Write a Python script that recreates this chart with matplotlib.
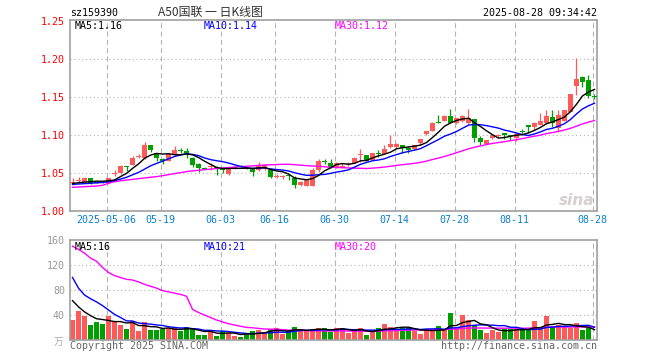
import numpy as np
import pandas as pd
import matplotlib
matplotlib.use("Agg")
import matplotlib.pyplot as plt

# ---------------- data ----------------
start_date = "2025-04-23"
end_date = "2025-08-28"
holidays = ["2025-05-01", "2025-05-02", "2025-05-05", "2025-06-02"]

open_ = [1.0375, 1.0400, 1.0386, 1.0435, 1.0378, 1.0378, 1.0368, 1.0494, 1.0496, 1.0585,
         1.0605, 1.0718, 1.0693, 1.0868, 1.0759, 1.0690, 1.0658, 1.0737, 1.0796, 1.0790,
         1.0702, 1.0614, 1.0563, 1.0580, 1.0583, 1.0550, 1.0482, 1.0568, 1.0585, 1.0568,
         1.0561, 1.0535, 1.0548, 1.0539, 1.0459, 1.0459, 1.0474, 1.0430, 1.0342, 1.0329,
         1.0329, 1.0539, 1.0652, 1.0636, 1.0583, 1.0590, 1.0616, 1.0636, 1.0744, 1.0737,
         1.0671, 1.0761, 1.0750, 1.0838, 1.0846, 1.0868, 1.0833, 1.0811, 1.0899, 1.1009,
         1.1053, 1.1165, 1.1184, 1.1250, 1.1162, 1.1184, 1.1154, 1.1206, 1.0956, 1.0882,
         1.0956, 1.0989, 1.1022, 1.0993, 1.0965, 1.1046, 1.1127, 1.1101, 1.1132, 1.1154,
         1.1241, 1.1096, 1.1184, 1.1307, 1.1649, 1.1759, 1.1724, 1.1506]
high = [1.0439, 1.0452, 1.0445, 1.0440, 1.0385, 1.0386, 1.0435, 1.0540, 1.0610, 1.0590,
        1.0720, 1.0746, 1.0912, 1.0870, 1.0762, 1.0693, 1.0750, 1.0860, 1.0825, 1.0825,
        1.0705, 1.0636, 1.0575, 1.0627, 1.0590, 1.0583, 1.0575, 1.0590, 1.0600, 1.0580,
        1.0565, 1.0645, 1.0614, 1.0561, 1.0487, 1.0474, 1.0487, 1.0461, 1.0390, 1.0410,
        1.0561, 1.0680, 1.0680, 1.0680, 1.0649, 1.0627, 1.0645, 1.0706, 1.0811, 1.0740,
        1.0765, 1.0803, 1.0868, 1.1000, 1.0900, 1.0870, 1.0855, 1.0870, 1.0950, 1.1058,
        1.1166, 1.1263, 1.1260, 1.1342, 1.1225, 1.1260, 1.1342, 1.1210, 1.0987, 1.0940,
        1.1005, 1.1013, 1.1025, 1.0995, 1.1031, 1.1075, 1.1130, 1.1165, 1.1285, 1.1329,
        1.1329, 1.1329, 1.1335, 1.1545, 1.2018, 1.1781, 1.1789, 1.1540]
low = [1.0342, 1.0364, 1.0380, 1.0355, 1.0362, 1.0365, 1.0365, 1.0460, 1.0490, 1.0530,
       1.0600, 1.0700, 1.0690, 1.0770, 1.0662, 1.0614, 1.0655, 1.0730, 1.0759, 1.0693,
       1.0583, 1.0518, 1.0548, 1.0539, 1.0474, 1.0505, 1.0478, 1.0550, 1.0560, 1.0550,
       1.0456, 1.0530, 1.0535, 1.0430, 1.0430, 1.0421, 1.0408, 1.0307, 1.0335, 1.0325,
       1.0325, 1.0518, 1.0618, 1.0561, 1.0561, 1.0561, 1.0590, 1.0630, 1.0649, 1.0655,
       1.0665, 1.0715, 1.0745, 1.0825, 1.0825, 1.0759, 1.0759, 1.0805, 1.0868, 1.1000,
       1.1049, 1.1155, 1.1180, 1.1158, 1.1150, 1.1175, 1.1150, 1.0912, 1.0868, 1.0875,
       1.0950, 1.0969, 1.0943, 1.0934, 1.0925, 1.1022, 1.1031, 1.1066, 1.1128, 1.1150,
       1.1101, 1.1044, 1.1180, 1.1300, 1.1526, 1.1636, 1.1482, 1.1469]
close = [1.0378, 1.0403, 1.0439, 1.0370, 1.0372, 1.0372, 1.0430, 1.0498, 1.0592, 1.0580,
         1.0702, 1.0722, 1.0868, 1.0803, 1.0693, 1.0660, 1.0746, 1.0803, 1.0792, 1.0750,
         1.0605, 1.0570, 1.0560, 1.0583, 1.0548, 1.0535, 1.0570, 1.0572, 1.0580, 1.0562,
         1.0518, 1.0601, 1.0601, 1.0452, 1.0463, 1.0463, 1.0456, 1.0342, 1.0386, 1.0408,
         1.0539, 1.0658, 1.0648, 1.0583, 1.0636, 1.0594, 1.0620, 1.0702, 1.0748, 1.0662,
         1.0759, 1.0757, 1.0811, 1.0882, 1.0882, 1.0833, 1.0803, 1.0868, 1.0947, 1.1053,
         1.1162, 1.1160, 1.1254, 1.1162, 1.1219, 1.1254, 1.1219, 1.0956, 1.0912, 1.0934,
         1.1000, 1.0993, 1.0996, 1.0989, 1.1009, 1.1042, 1.1101, 1.1162, 1.1184, 1.1254,
         1.1154, 1.1263, 1.1329, 1.1539, 1.1737, 1.1702, 1.1518, 1.1502]
volume = [32, 46.4, 38.9, 24, 28.8, 25.6, 38.9, 29.9, 24, 17.6,
          29.9, 14.4, 28.8, 16, 16, 17, 18.7, 18.7, 14.4, 20.8,
          17, 8, 8, 16, 6.4, 14.4, 11.7, 6.4, 4.8, 11.2,
          14.4, 16, 11.2, 17.6, 19.2, 9.6, 14.4, 20.8, 17.6, 14.4,
          14.4, 19.2, 19.2, 13.3, 19.2, 19.2, 11.7, 14.4, 19.2, 8,
          14.4, 19.2, 25.6, 20.8, 17.6, 19.2, 19.2, 14.4, 9.6, 16,
          16, 22.4, 16, 44, 17.6, 39.5, 31.5, 24, 16, 11.2,
          16, 12.8, 17.6, 17.6, 17.6, 16, 16, 30.4, 19.2, 38.4,
          20.8, 24, 20.8, 19.2, 27.2, 16, 19.2, 0.8]

# moving-average values before a full window is available
ma5_head = [1.0362, 1.0372, 1.0380, 1.0385]
ma10_head = [1.0350, 1.0355, 1.0360, 1.0365, 1.0370, 1.0375, 1.0385, 1.0400, 1.0420]
ma30_head = [1.0312, 1.0316, 1.0320, 1.0324, 1.0328, 1.0338, 1.0365, 1.0385, 1.0398, 1.0407,
             1.0416, 1.0425, 1.0435, 1.0444, 1.0452, 1.0465, 1.0478, 1.0492, 1.0505, 1.0518,
             1.0528, 1.0536, 1.0544, 1.0551, 1.0558, 1.0565, 1.0572, 1.0578, 1.0584]
vma5_head = [63, 53, 45, 39]
vma10_head = [100, 83, 72, 66, 61, 55, 48, 41, 36]
vma30_head = [150, 145, 139, 131, 126, 116, 108, 103, 100, 97,
              96, 93, 89, 86, 83, 79, 77, 75, 73, 70,
              49, 44, 40, 36, 32, 29, 26, 24, 22]

tick_dates = ["2025-05-06", "2025-05-19", "2025-06-03", "2025-06-16", "2025-06-30",
              "2025-07-14", "2025-07-28", "2025-08-11", "2025-08-28"]
tick_labels = ["2025-05-06", "05-19", "06-03", "06-16", "06-30",
               "07-14", "07-28", "08-11", "08-28"]
price_ticks = [1.00, 1.05, 1.10, 1.15, 1.20, 1.25]
vol_ticks = [0, 40, 80, 120, 160]

code = "sz159390"
title = "A50国联 一 日K线图"
stamp = "2025-08-28 09:34:42"

# ---------------- derived ----------------
dates = pd.bdate_range(start_date, end_date)
dates = dates[~dates.isin(pd.to_datetime(holidays))]
n = len(dates)
x = np.arange(n)
o = np.array(open_); h = np.array(high); l = np.array(low); c = np.array(close)
v = np.array(volume)


def moving(series, win, head):
    m = pd.Series(series).rolling(win).mean().to_numpy()
    m[:win - 1] = head
    return m


ma5 = moving(c, 5, ma5_head)
ma10 = moving(c, 10, ma10_head)
ma30 = moving(c, 30, ma30_head)
vma5 = moving(v, 5, vma5_head)
vma10 = moving(v, 10, vma10_head)
vma30 = moving(v, 30, vma30_head)

RED = "#FF5A5A"
GREEN = "#009F00"
up = c >= o
cols = np.where(up, RED, GREEN)

mono = "DejaVu Sans Mono"
FS = 7.2
W, H = 660, 360

fig = plt.figure(figsize=(6.6, 3.6), dpi=100)
fig.patch.set_facecolor("white")
ax = fig.add_axes([70 / W, 1 - 211 / H, 527 / W, 191 / H])
axv = fig.add_axes([70 / W, 1 - 340 / H, 527 / W, 100 / H])

xl = (-0.42, n - 1 + 0.42)
tick_idx = np.array([dates.get_loc(pd.Timestamp(d)) for d in tick_dates]) - 0.3

for a in (ax, axv):
    a.set_xlim(*xl)
    for s in a.spines.values():
        s.set_color("#A0A0A0")
        s.set_linewidth(1.2)
    a.set_xticks(tick_idx)
    a.tick_params(axis="both", length=0)
    for t in tick_idx:
        a.axvline(t, color="#B4B4B4", lw=0.8, ls=(0, (4.5, 3)), zorder=0)

# ---- price panel ----
ax.set_ylim(1.0, 1.2513)
ax.set_yticks(price_ticks)
ax.set_yticklabels([f"{t:.2f}" for t in price_ticks], fontfamily=mono, fontsize=FS, color="#FF0000")
ax.tick_params(axis="y", pad=3.6)
for t in price_ticks[1:-1]:
    ax.axhline(t, color="#B4B4B4", lw=0.8, ls=(0, (1, 2.5)), zorder=0)
ax.set_xticklabels(tick_labels, fontfamily=mono, fontsize=FS, color="#0A80D0")
ax.tick_params(axis="x", pad=3)

min_body = 0.0013
body_h = np.maximum(np.abs(c - o), min_body)
body_b = np.minimum(o, c) - np.where(np.abs(c - o) < min_body, min_body / 2, 0)
ax.vlines(x, l, h, colors=cols, lw=0.9, zorder=2)
ax.bar(x, body_h, bottom=body_b, width=0.8, color=cols, edgecolor=cols, lw=0, zorder=3)
ax.plot(x, ma30, color="#FF00FF", lw=1.0, zorder=4)
ax.plot(x, ma10, color="#0000FF", lw=1.0, zorder=4)
ax.plot(x, ma5, color="#000000", lw=1.0, zorder=5)

ax.text(0.995, 0.015, "sina", transform=ax.transAxes, ha="right", va="bottom",
        fontsize=11, fontweight="bold", fontstyle="italic", color="#D6D0D0", zorder=1)

# ---- volume panel ----
axv.set_ylim(0, 160)
axv.set_yticks(vol_ticks[1:])
axv.set_yticklabels([str(t) for t in vol_ticks[1:]], fontfamily=mono, fontsize=FS, color="#999999")
axv.tick_params(axis="y", pad=3.6)
axv.set_xticklabels([])
for t in vol_ticks[1:-1]:
    axv.axhline(t, color="#B4B4B4", lw=0.8, ls=(0, (1, 2.5)), zorder=0)
axv.bar(x, v, width=0.83, color=cols, lw=0, zorder=2)
axv.plot(x, vma30, color="#FF00FF", lw=1.0, zorder=4)
axv.plot(x, vma10, color="#0000FF", lw=1.0, zorder=4)
axv.plot(x, vma5, color="#000000", lw=1.0, zorder=5)


def ftext(px, py, s, **kw):
    fig.text(px / W, 1 - py / H, s, **kw)


# header
ftext(70, 13, code, fontfamily=mono, fontsize=FS, color="#000000", va="center", ha="left")
ftext(210, 12.5, title, fontfamily=["Noto Sans CJK SC", "DejaVu Sans"], fontsize=8.6,
      color="#333333", va="center", ha="center")
ftext(597, 13, stamp, fontfamily=mono, fontsize=FS, color="#000000", va="center", ha="right")

# legends
ftext(75, 26, f"MA5:{ma5[-1]:.2f}", fontfamily=mono, fontsize=FS, color="#000000", va="center")
ftext(204, 26, f"MA10:{ma10[-1]:.2f}", fontfamily=mono, fontsize=FS, color="#0000FF", va="center")
ftext(335, 26, f"MA30:{ma30[-1]:.2f}", fontfamily=mono, fontsize=FS, color="#FF00FF", va="center")
ftext(75, 246.5, f"MA5:{vma5[-1]:.0f}", fontfamily=mono, fontsize=FS, color="#000000", va="center")
ftext(204, 246.5, f"MA10:{vma10[-1]:.0f}", fontfamily=mono, fontsize=FS, color="#0000FF", va="center")
ftext(335, 246.5, f"MA30:{vma30[-1]:.0f}", fontfamily=mono, fontsize=FS, color="#FF00FF", va="center")

# footer
ftext(63, 342, "万", fontfamily=["Noto Sans CJK SC", "DejaVu Sans"], fontsize=7,
      color="#AAAAAA", va="center", ha="right")
ftext(70, 346, "Copyright 2025 SINA.COM", fontfamily=mono, fontsize=FS, color="#666666",
      va="center", ha="left")
ftext(597, 346, "http://finance.sina.com.cn", fontfamily=mono, fontsize=FS, color="#666666",
      va="center", ha="right")

fig.savefig("out.png", dpi=100, facecolor="white")
